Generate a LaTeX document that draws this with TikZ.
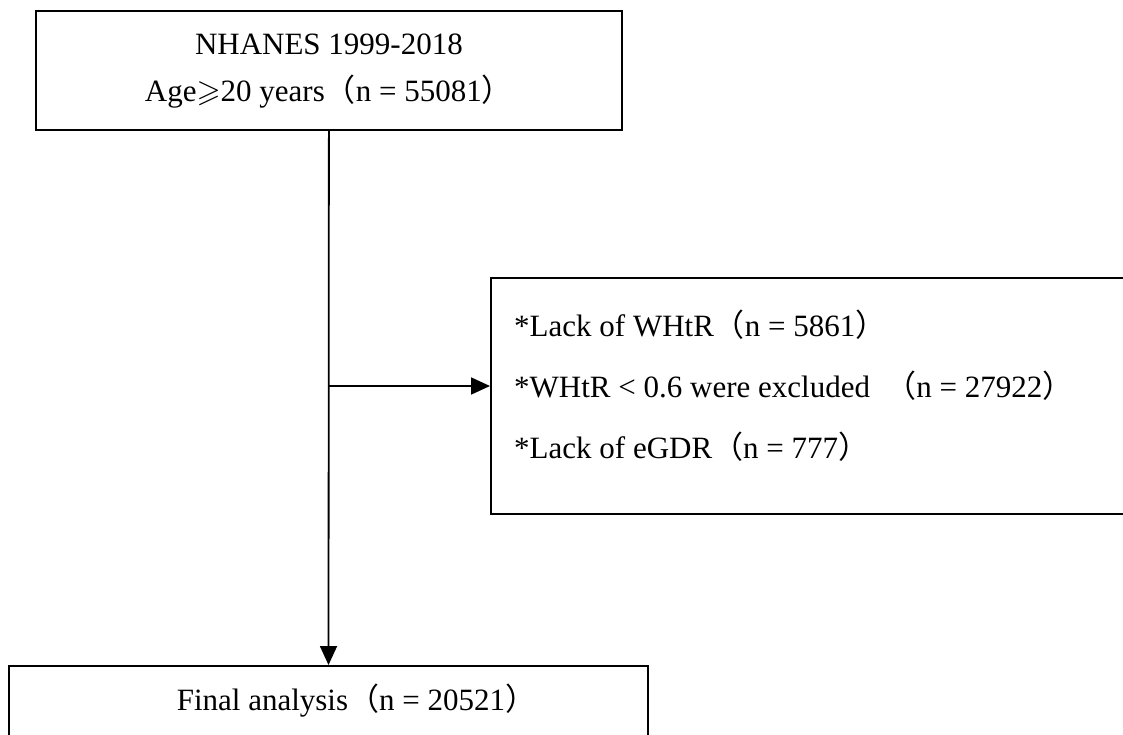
\documentclass[tikz,border=0pt]{standalone}
\usepackage{fontspec}
\usepackage{amssymb}
\setmainfont{Liberation Serif}
\newfontfamily\cjkfont{Noto Sans CJK SC}
\newcommand{\lpar}{{\cjkfont （}}
\newcommand{\rpar}{{\cjkfont ）}}
\usetikzlibrary{arrows.meta}
\tikzset{
  box/.style={draw, line width=1.8pt, inner sep=0pt, font=\fontsize{31}{47}\selectfont},
  txt/.style={inner sep=0pt, font=\fontsize{31}{61}\selectfont},
  flow/.style={line width=1.8pt, -{Triangle[length=19pt,width=17pt]}}
}
\begin{document}
\begin{tikzpicture}[x=1pt,y=-1pt]
\useasboundingbox (0,0) rectangle (1123,734);
\clip (0,0) rectangle (1123,734);
\node[box, anchor=north west, minimum width=586pt, minimum height=119pt, text depth=6pt, align=center] (start) at (35,10)
  {NHANES 1999-2018\\Age$\geqslant$20 years\lpar n = 55081\rpar};
\node[box, anchor=north west, minimum width=700pt, minimum height=236pt] (excl) at (490,277) {};
\node[txt, anchor=west, align=left] (excltxt) at (514,386)
  {*Lack of WHtR\lpar n = 5861\rpar\\\relax *WHtR < 0.6 were excluded\enspace\lpar n = 27922\rpar\\\relax *Lack of eGDR\lpar n = 777\rpar};
\node[box, anchor=north, minimum width=639pt, text height=45pt, text depth=40pt] (final) at (328.5,665)
  {\hspace*{56pt}Final analysis\lpar n = 20521\rpar};
\coordinate (split) at (start.south |- excltxt.west);
\draw[flow] (start.south) -- (final.north);
\draw[flow] (split) -- (excl.west |- split);
\end{tikzpicture}
\end{document}
